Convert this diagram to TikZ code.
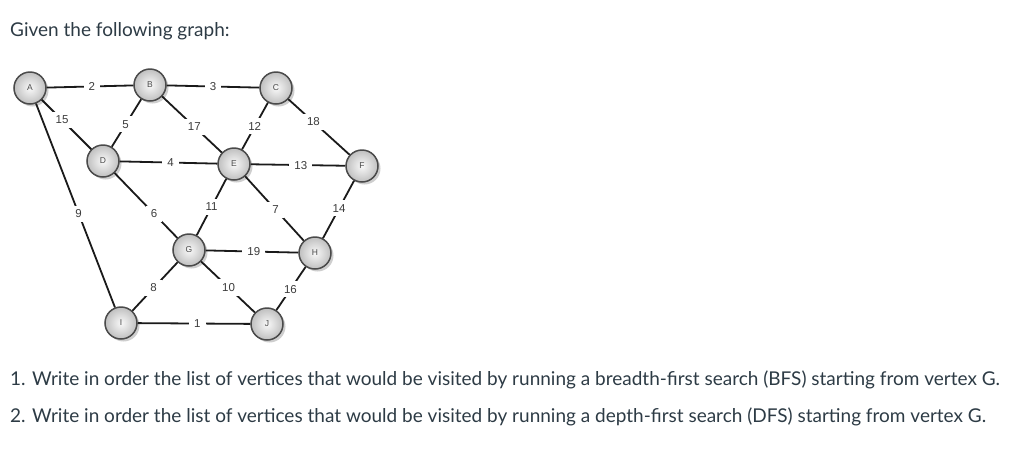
\documentclass[tikz,border=0pt]{standalone}
\usepackage{fontspec}
\setmainfont{Lato}
\newfontfamily\graphfont{Liberation Sans}
\usetikzlibrary{shadows}
\definecolor{txt}{HTML}{2D3B45}
\definecolor{edgecol}{HTML}{1A1A1A}
\definecolor{ringcol}{HTML}{4A4A4A}
\tikzset{
  vtx/.style={circle, draw=ringcol, line width=1.5pt, minimum size=32pt, inner sep=0pt,
    shading=radial, inner color=white!95!gray, outer color=gray!50,
    font=\graphfont\fontsize{8.5}{9}\selectfont, text=ringcol,
    drop shadow={shadow xshift=2.5pt, shadow yshift=-2.5pt, fill=gray!70, opacity=0.55}},
  edge/.style={draw=edgecol, line width=1.8pt},
  wlab/.style={fill=white, inner xsep=5pt, inner ysep=4pt, font=\graphfont\fontsize{11.5}{12}\selectfont, text=edgecol!85},
  para/.style={anchor=west, text=txt, font=\fontsize{19}{22}\selectfont, inner sep=0pt}
}
\begin{document}
\begin{tikzpicture}[x=1pt,y=-1pt]
\useasboundingbox (0,0) rectangle (1033,459);
\node[para] (title) at (10,31) {Given the following graph:};
\node[para] (q1) at (10,380) {1. Write in order the list of vertices that would be visited by running a breadth-first search (BFS) starting from vertex G.};
\node[para] (q2) at (10,417) {2. Write in order the list of vertices that would be visited by running a depth-first search (DFS) starting from vertex G.};

\node[vtx] (A) at (30,88) {A};
\node[vtx] (B) at (150,85) {B};
\node[vtx] (C) at (276,88) {C};
\node[vtx] (D) at (103,161) {D};
\node[vtx] (E) at (234,164) {E};
\node[vtx] (F) at (362,166) {F};
\node[vtx] (G) at (189,250) {G};
\node[vtx] (H) at (315,253) {H};
\node[vtx] (I) at (121,323) {I};
\node[vtx] (J) at (267,324) {J};

\path[edge] (A) -- node[wlab, pos=0.52] (wAB) {2} (B);
\path[edge] (A) -- node[wlab, pos=0.41] (wAD) {15} (D);
\path[edge] (A) -- node[wlab, pos=0.54] (wAI) {9} (I);
\path[edge] (B) -- node[wlab, pos=0.5] (wBC) {3} (C);
\path[edge] (B) -- node[wlab, pos=0.53] (wBD) {5} (D);
\path[edge] (B) -- node[wlab, pos=0.54] (wBE) {17} (E);
\path[edge] (C) -- node[wlab, pos=0.51] (wCE) {12} (E);
\path[edge] (C) -- node[wlab, pos=0.41] (wCF) {18} (F);
\path[edge] (D) -- node[wlab, pos=0.52] (wDE) {4} (E);
\path[edge] (D) -- node[wlab, pos=0.63] (wDG) {6} (G);
\path[edge] (E) -- node[wlab, pos=0.53] (wEF) {13} (F);
\path[edge] (E) -- node[wlab, pos=0.5] (wEG) {11} (G);
\path[edge] (E) -- node[wlab, pos=0.52] (wEH) {7} (H);
\path[edge] (F) -- node[wlab, pos=0.48] (wFH) {14} (H);
\path[edge] (G) -- node[wlab, pos=0.52] (wGH) {19} (H);
\path[edge] (G) -- node[wlab, pos=0.53] (wGI) {8} (I);
\path[edge] (G) -- node[wlab, pos=0.51] (wGJ) {10} (J);
\path[edge] (H) -- node[wlab, pos=0.52] (wHJ) {16} (J);
\path[edge] (I) -- node[wlab, pos=0.53] (wIJ) {1} (J);
\end{tikzpicture}
\end{document}
